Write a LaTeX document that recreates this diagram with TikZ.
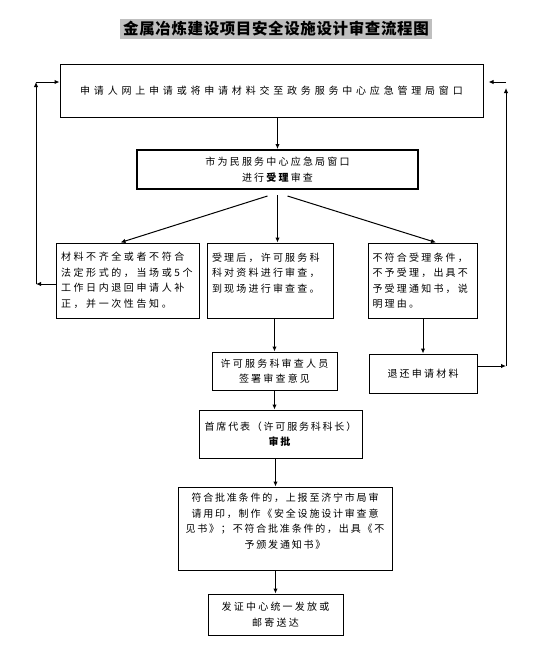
\documentclass[tikz,border=0pt]{standalone}
\usepackage{fontspec}
\setmainfont{Noto Sans CJK SC}
\newfontfamily\cjk[LetterSpace=22]{Noto Sans CJK SC}
\newfontfamily\cjkm[LetterSpace=26]{Noto Sans CJK SC}
\newfontfamily\cjkw[LetterSpace=38]{Noto Sans CJK SC}
\newfontfamily\cjkn[LetterSpace=18]{Noto Sans CJK SC}
\newfontfamily\cjktitle[LetterSpace=4]{Noto Sans CJK SC}
\usetikzlibrary{arrows.meta,calc}
\begin{document}
\begin{tikzpicture}[x=1pt,y=-1pt,
  box/.style={draw,line width=1pt,inner sep=0pt,font=\cjk\fontsize{10}{15.5}\selectfont},
  arr/.style={line width=1pt,-{Latex[length=5pt,width=4.5pt]}},
  ln/.style={line width=1pt}]
\useasboundingbox (0,0) rectangle (536,659);
\fill[white] (0,0) rectangle (536,659);
% title
\node[fill=black!25,minimum width=312pt,minimum height=20pt,inner sep=0pt,
  font=\cjktitle\bfseries\fontsize{15.5}{18}\selectfont] (title) at (276,29) {金属冶炼建设项目安全设施设计审查流程图};
% boxes
\node[box,font=\cjkw\fontsize{10}{15.5}\selectfont,minimum width=423pt,minimum height=53pt] (b1) at (271.5,90.5) {申请人网上申请或将申请材料交至政务服务中心应急管理局窗口};
\node[box,line width=2pt,minimum width=281pt,minimum height=39pt,align=center] (b2) at (277.5,169.5) {市为民服务中心应急局窗口\\进行\textbf{受理}审查};
\node[box,font=\cjkm\fontsize{10}{15.5}\selectfont,minimum width=143pt,minimum height=75pt,text width=133pt,align=left] (L) at (127.5,280.5) {材料不齐全或者不符合\\法定形式的，当场或5个\\工作日内退回申请人补\\正，并一次性告知。};
\node[box,minimum width=126pt,minimum height=75pt,text width=116pt,align=left] (M) at (270,280.5) {受理后，许可服务科\\科对资料进行审查，\\到现场进行审查查。\\\mbox{}};
\node[box,minimum width=109pt,minimum height=75pt,text width=100pt,align=left] (R) at (422.5,280.5) {不符合受理条件，\\不予受理，出具不\\予受理通知书，说\\明理由。};
\node[box,minimum width=125pt,minimum height=38pt,align=center] (S) at (274.5,371) {许可服务科审查人员\\签署审查意见};
\node[box,minimum width=108pt,minimum height=39pt] (T) at (423,373.5) {退还申请材料};
\node[box,font=\cjkn\fontsize{10}{15.5}\selectfont,minimum width=163pt,minimum height=48pt,align=center] (A) at (280.5,434) {首席代表（许可服务科科长）\\\textbf{审批}};
\node[box,font=\cjkn\fontsize{10}{15.5}\selectfont,minimum width=214pt,minimum height=83pt,text width=205pt,align=center] (B) at (285,528.5) {符合批准条件的，上报至济宁市局审\\请用印，制作《安全设施设计审查意\\见书》；不符合批准条件的，出具《不\\予颁发通知书》\\\mbox{}};
\node[box,minimum width=135pt,minimum height=41pt,align=center] (F) at (275.5,614.5) {发证中心统一发放或\\邮寄送达};
% connectors
\draw[arr] (b1.south -| b2.north) -- (b2.north);
\coordinate (sl) at ($(b2.south)+(-10,6)$);
\coordinate (sm) at ($(b2.south)+(0,5)$);
\coordinate (sr) at ($(b2.south)+(10,6)$);
\draw[arr] (sl) -- ($(L.north)+(-7,0)$);
\draw[arr] (sm) -- (sm |- M.north);
\draw[arr] (sr) -- ($(R.north)+(13.5,0)$);
\draw[arr] (M.south -| S.north) -- (S.north);
\draw[arr] (R.south -| T.north) -- (T.north);
\draw[arr] (S.south) -- (S.south |- A.north);
\draw[arr] (F.north |- A.south) -- (F.north |- B.north);
\draw[arr] (F.north |- B.south) -- (F.north);
% left loop
\coordinate (lc1) at (36,284);
\coordinate (lc2) at (36,82);
\draw[arr] (L.west |- lc1) -- (lc1);
\draw[arr] (lc1) -- (lc2);
\draw[arr] (lc2) -- (lc2 -| b1.west);
% right loop
\coordinate (rc1) at (506,366);
\coordinate (rc2) at (506,88);
\coordinate (rc3) at (506,82);
\draw[arr] (T.east |- rc1) -- (rc1);
\draw[arr] (rc1) -- (rc2);
\draw[arr] (rc3) -- ($(rc3 -| b1.east)+(5,0)$);
\end{tikzpicture}
\end{document}
